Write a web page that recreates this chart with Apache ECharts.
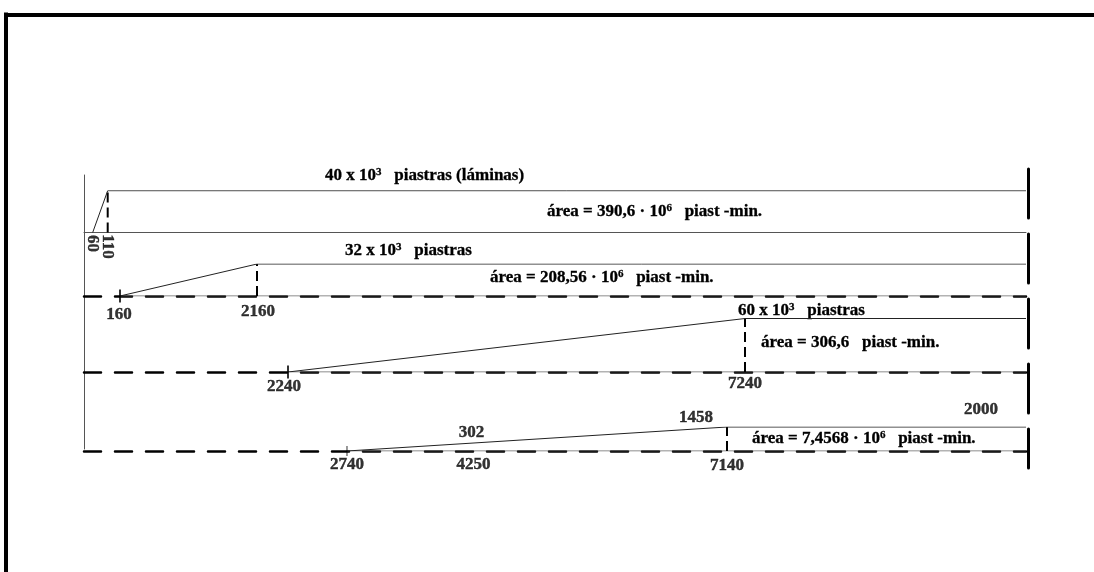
<!DOCTYPE html>
<html><head><meta charset="utf-8">
<script src="https://cdn.jsdelivr.net/npm/echarts@6/dist/echarts.min.js"></script>
<style>html,body{margin:0;padding:0;background:#fff}#c{width:1094px;height:572px}</style>
</head><body><div id="c"></div>
<script>
// ---- data (times in minutes, levels in 10^3 piastras) ----
const rampStart = [60, 160, 2240, 2740];
const rampEnd = [110, 2160, 7240, 7140];
const levels = [40, 32, 60, 1458];
const levelLabels = ['40 x 10{s|3}   piastras (láminas)', '32 x 10{s|3}   piastras', '60 x 10{s|3}   piastras'];
const areaLabels = ['área = 390,6 · 10{s|6}   piast -min.', 'área = 208,56 · 10{s|6}   piast -min.',
                    'área = 306,6   piast -min.', 'área = 7,4568 · 10{s|6}   piast -min.'];
const row4MidTime = [4250];
const row4MidValue = [302];
const row4FinalValue = [2000];

// ---- layout (schematic, each row has its own scale) ----
const rowTop = [190.7, 264, 318.5, 427];
const rowBottom = [232.5, 296, 372, 451];
const xRange = [[31, 3171], [-365.5, 13386], [8, 10314], [-305, 10602]];
const FS = 17;
const FONT = {fontFamily: 'Liberation Serif', fontWeight: 'bold', fontSize: FS, color: '#000',
              textBorderColor: '#000', textBorderWidth: 0.4};
const levelTextPos = [[325, 176], [345, 251], [738, 311]];
const areaTextPos = [[547, 212], [490, 278], [761, 343], [752, 439]];

const grid = [], xAxis = [], yAxis = [], series = [];
const bare = {axisTick: {show: false}, axisLabel: {show: false}, splitLine: {show: false}};

for (let i = 0; i < 4; i++) {
  grid.push({left: 84, width: 942, top: rowTop[i], height: rowBottom[i] - rowTop[i]});
  xAxis.push(Object.assign({
    type: 'value', gridIndex: i, min: xRange[i][0], max: xRange[i][1],
    axisLine: {show: true, onZero: false,
      lineStyle: i === 0 ? {color: '#555', width: 1} : {color: '#000', width: 2.5, type: [17, 14]}}
  }, bare));
  yAxis.push({type: 'value', gridIndex: i, min: 0, max: levels[i], show: false, splitLine: {show: false}});
  const xmax = xRange[i][1];
  series.push({type: 'line', xAxisIndex: i, yAxisIndex: i, symbol: 'none', silent: true, z: 4,
    lineStyle: {color: '#222', width: 1},
    data: [[rampStart[i], 0], [rampEnd[i], levels[i]], [xmax, levels[i]]]});
  if (i > 0) series.push({type: 'line', xAxisIndex: i, yAxisIndex: i, symbol: 'none', silent: true, z: 1,
    lineStyle: {color: '#666', width: 1},
    data: [[rampStart[i], 0], [xmax, 0]]});
  series.push({type: 'line', xAxisIndex: i, yAxisIndex: i, symbol: 'none', silent: true, z: 3,
    lineStyle: {color: '#000', width: 2, type: [10, 5]},
    data: [[rampEnd[i], 0], [rampEnd[i], levels[i]]]});
  if (i > 0) series.push({type: 'scatter', xAxisIndex: i, yAxisIndex: i, silent: true, z: 5,
    symbol: 'rect', symbolSize: i === 3 ? [1, 10] : [2, 13], itemStyle: {color: '#000'},
    data: [[rampStart[i], 0]]});
}

const lbl = (x, y, text, off, rot) => ({value: [x, y, text], label: {offset: off, rotate: rot || 0}});
const labelSeries = (i, data) => ({type: 'scatter', xAxisIndex: i, yAxisIndex: i, silent: true, z: 6,
  symbolSize: 1, itemStyle: {color: 'rgba(0,0,0,0)'},
  label: Object.assign({show: true, position: 'inside', formatter: p => String(p.value[2])}, FONT),
  data: data});
series.push(labelSeries(0, [lbl(rampStart[0], 0, rampStart[0], [11, 0], -90),
                            lbl(rampEnd[0], 0, rampEnd[0], [14, 0], -90)]));
series.push(labelSeries(1, [lbl(rampStart[1], 0, rampStart[1], [-1, 19]),
                            lbl(rampEnd[1], 0, rampEnd[1], [1, 16])]));
series.push(labelSeries(2, [lbl(rampStart[2], 0, rampStart[2], [-4, 15]),
                            lbl(rampEnd[2], 0, rampEnd[2], [0, 12])]));
series.push(labelSeries(3, [lbl(rampStart[3], 0, rampStart[3], [0, 14]),
                            lbl(row4MidTime[0], 0, row4MidTime[0], [-4, 14]),
                            lbl(rampEnd[3], 0, rampEnd[3], [0, 15]),
                            lbl(row4MidTime[0], row4MidValue[0], row4MidValue[0], [-6, -13]),
                            lbl(rampEnd[3], levels[3], levels[3], [-31, -9]),
                            lbl(xRange[3][1], levels[3], row4FinalValue[0], [-45, -17])]));

// left thin line of the diagram
grid.push({left: 84, width: 942, top: 175, height: 274});
xAxis.push({type: 'value', gridIndex: 4, min: 0, max: 1, show: false});
yAxis.push(Object.assign({type: 'value', gridIndex: 4, min: 0, max: 1,
  axisLine: {show: true, onZero: false, lineStyle: {color: '#555', width: 1}}}, bare));
// right dashed border
grid.push({left: 84, width: 944, top: 169, height: 299});
xAxis.push({type: 'value', gridIndex: 5, min: 0, max: 1, show: false});
yAxis.push(Object.assign({type: 'value', gridIndex: 5, min: 0, max: 1, position: 'right', inverse: true,
  axisLine: {show: true, onZero: false, lineStyle: {color: '#000', width: 3, type: [49, 16]}}}, bare));
// outer page frame (top & left)
grid.push({left: 6, top: 14.5, width: 1300, height: 800});
xAxis.push(Object.assign({type: 'value', gridIndex: 6, position: 'top', min: 0, max: 1,
  axisLine: {show: true, onZero: false, lineStyle: {color: '#000', width: 4, cap: 'square'}}}, bare));
yAxis.push(Object.assign({type: 'value', gridIndex: 6, min: 0, max: 1, inverse: true,
  axisLine: {show: true, onZero: false, lineStyle: {color: '#000', width: 4, cap: 'square'}}}, bare));

const textStyle = t => ({text: t, fill: '#000', stroke: '#000', lineWidth: 0.3, verticalAlign: 'middle',
  font: 'bold ' + FS + 'px "Liberation Serif"',
  rich: {s: {font: 'bold 11px "Liberation Serif"', fill: '#000', verticalAlign: 'top', lineHeight: 18}}});
const graphic = [];
levelLabels.forEach((t, i) => graphic.push({type: 'text', x: levelTextPos[i][0], y: levelTextPos[i][1], style: textStyle(t)}));
areaLabels.forEach((t, i) => graphic.push({type: 'text', x: areaTextPos[i][0], y: areaTextPos[i][1], style: textStyle(t)}));

const chart = echarts.init(document.getElementById('c'), null, {renderer: 'canvas'});
chart.setOption({animation: false, backgroundColor: '#fff', grid, xAxis, yAxis, series, graphic});
</script></body></html>
